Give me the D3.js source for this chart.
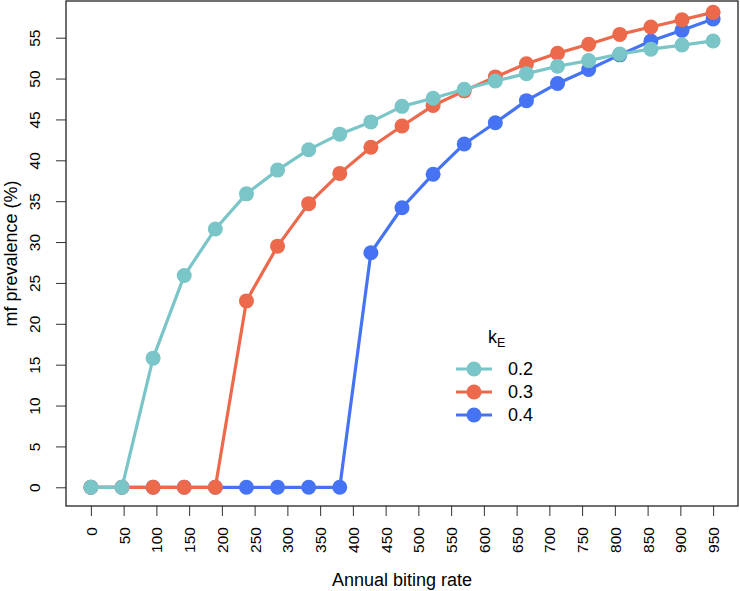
<!DOCTYPE html>
<html>
<head>
<meta charset="utf-8">
<script src="https://cdn.jsdelivr.net/npm/d3@7"></script>
<style>
    body { margin: 0; background: #fff; }
    svg { display: block; font-family: "Liberation Sans", Arial, Helvetica, sans-serif; }
</style>
</head>
<body>
<div id="chart"></div>
<script>
// tick labels printed under the x axis (20 ticks, spread over the 21 runs)
const abrLabels = [0, 50, 100, 150, 200, 250, 300, 350, 400, 450, 500, 550, 600, 650, 700, 750, 800, 850, 900, 950];
const yTicks = [0, 5, 10, 15, 20, 25, 30, 35, 40, 45, 50, 55];

// mf prevalence (%) per run, one array per k_E value
const kE02 = [0, 0, 15.8, 25.9, 31.6, 35.9, 38.8, 41.3, 43.2, 44.7, 46.6, 47.6, 48.7, 49.7, 50.6, 51.5, 52.2, 53.0, 53.6, 54.1, 54.6];
const kE03 = [0, 0, 0, 0, 0, 22.8, 29.5, 34.7, 38.4, 41.6, 44.2, 46.7, 48.5, 50.2, 51.8, 53.1, 54.2, 55.4, 56.3, 57.2, 58.1];
const kE04 = [0, 0, 0, 0, 0, 0, 0, 0, 0, 28.7, 34.2, 38.3, 42.0, 44.6, 47.3, 49.4, 51.1, 52.9, 54.6, 55.9, 57.3];

const seriesNames = ["0.2", "0.3", "0.4"];
const seriesColors = ["#79c5c8", "#ec694b", "#4573f3"];

const width = 740, height = 591;
const plot = { left: 66, right: 738, top: 1, bottom: 506 };

const svg = d3.select("#chart")
    .append("svg")
    .attr("width", width)
    .attr("height", height);

const nRuns = kE02.length;
const pad = (nRuns - 1) * 0.04;
const x = d3.scaleLinear()
    .domain([-pad, nRuns - 1 + pad])
    .range([plot.left, plot.right]);

const yMax = 57.2;
const y = d3.scaleLinear()
    .domain([-yMax * 0.04, yMax * 1.04])
    .range([plot.bottom, plot.top]);

// x ticks are spaced evenly over the full run range
const tickPos = abrLabels.map((d, i) => i * (nRuns - 1) / (abrLabels.length - 1));

const xAxis = svg.append("g")
    .attr("transform", `translate(0,${plot.bottom})`)
    .call(d3.axisBottom(x)
        .tickValues(tickPos)
        .tickFormat((d, i) => abrLabels[i])
        .tickSize(10)
    );
xAxis.select(".domain").remove();
xAxis.selectAll("line").attr("stroke", "#333");
xAxis.selectAll("text")
    .attr("transform", "rotate(-90)")
    .attr("x", -21)
    .attr("y", 0)
    .attr("dy", "0.36em")
    .style("text-anchor", "end")
    .style("font-size", "15.5px")
    .attr("fill", "#000");

const yAxis = svg.append("g")
    .attr("transform", `translate(${plot.left},0)`)
    .call(d3.axisLeft(y)
        .tickValues(yTicks)
        .tickSize(10)
    );
yAxis.select(".domain").remove();
yAxis.selectAll("line").attr("stroke", "#333");
yAxis.selectAll("text")
    .attr("transform", "rotate(-90)")
    .attr("x", 0)
    .attr("y", -26)
    .attr("dy", 0)
    .style("text-anchor", "middle")
    .style("font-size", "15.5px")
    .attr("fill", "#000");

// box round the plot
svg.append("rect")
    .attr("x", plot.left)
    .attr("y", plot.top)
    .attr("width", plot.right - plot.left)
    .attr("height", plot.bottom - plot.top)
    .attr("fill", "none")
    .attr("stroke", "#222")
    .attr("stroke-width", 1.3);

// axis titles
svg.append("text")
    .attr("x", (plot.left + plot.right) / 2)
    .attr("y", 586)
    .attr("text-anchor", "middle")
    .style("font-size", "18px")
    .text("Annual biting rate");

svg.append("text")
    .attr("transform", `translate(17,${(plot.top + plot.bottom) / 2}) rotate(-90)`)
    .attr("text-anchor", "middle")
    .style("font-size", "18px")
    .text("mf prevalence (%)");

// lines + points, drawn 0.4 first so 0.2 ends up on top
const allSeries = [kE02, kE03, kE04];
const line = d3.line()
    .x((d, i) => x(i))
    .y(d => y(d));

[2, 1, 0].forEach(s => {
    const g = svg.append("g");
    g.append("path")
        .datum(allSeries[s])
        .attr("d", line)
        .attr("fill", "none")
        .attr("stroke", seriesColors[s])
        .attr("stroke-width", 3.2)
        .attr("stroke-linejoin", "round");
    g.selectAll("circle")
        .data(allSeries[s])
        .enter()
        .append("circle")
        .attr("cx", (d, i) => x(i))
        .attr("cy", d => y(d))
        .attr("r", 7.5)
        .attr("fill", seriesColors[s]);
});

// legend
const legend = svg.append("g");
const legTitle = legend.append("text")
    .attr("x", 488)
    .attr("y", 343)
    .style("font-size", "18px");
legTitle.append("tspan").text("k");
legTitle.append("tspan")
    .attr("dy", 4)
    .style("font-size", "12.5px")
    .text("E");

seriesNames.forEach((name, i) => {
    const yy = 369 + i * 23;
    legend.append("line")
        .attr("x1", 456).attr("x2", 492)
        .attr("y1", yy).attr("y2", yy)
        .attr("stroke", seriesColors[i])
        .attr("stroke-width", 3.2);
    legend.append("circle")
        .attr("cx", 474)
        .attr("cy", yy)
        .attr("r", 7.5)
        .attr("fill", seriesColors[i]);
    legend.append("text")
        .attr("x", 508)
        .attr("y", yy)
        .attr("dy", "0.36em")
        .style("font-size", "18px")
        .text(name);
});
</script>
</body>
</html>
